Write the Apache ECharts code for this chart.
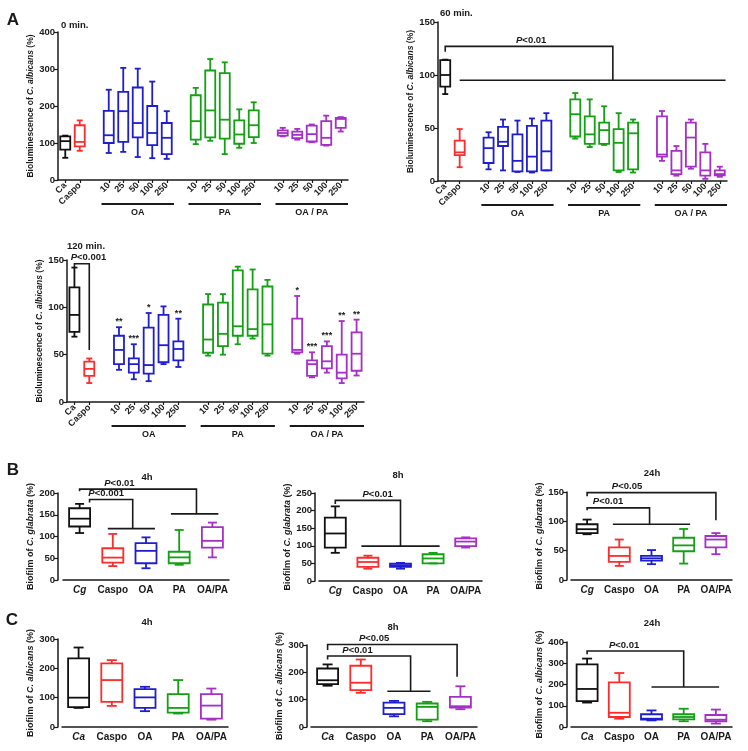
<!DOCTYPE html>
<html><head><meta charset="utf-8">
<script src="https://cdn.jsdelivr.net/npm/echarts@6/dist/echarts.min.js"></script>
<style>html,body{margin:0;padding:0;background:#fff}#c{width:748px;height:751px}</style>
</head><body><div id="c"></div>
<script>
// ---------- categories ----------
const catsA = ['Ca','Caspo','','10','25','50','100','250','','10','25','50','100','250','','10','25','50','100','250'];
const idxA = [0,1,3,4,5,6,7,9,10,11,12,13,15,16,17,18,19];
const groupsA = ['Ca','Caspo','OA','OA','OA','OA','OA','PA','PA','PA','PA','PA','OAPA','OAPA','OAPA','OAPA','OAPA'];
const catsB = ['Cg','Caspo','OA','PA','OA/PA'];
const catsC = ['Ca','Caspo','OA','PA','OA/PA'];
const idxBC = [0,1,2,3,4];
const groupsBC = ['Ca','Caspo','OA','PA','OAPA'];
const groupLabelsA = [[3,7,'OA'],[9,13,'PA'],[15,19,'OA / PA']];

// ---------- values: [min, Q1, median, Q3, max] ----------
const a0min = [
 [60,82,105,118,120],[79,91,103,148,161],
 [73,100,121,187,244],[76,103,186,238,303],[62,115,154,250,301],[59,94,127,200,266],[57,70,114,154,186],
 [97,109,159,229,249],[106,115,188,296,327],[70,112,163,289,318],[87,98,123,161,191],[100,116,148,188,210],
 [118,120,127,134,141],[109,113,122,131,138],[102,104,124,147,150],[93,95,114,159,174],[131,141,165,168,170]
];
const a60min = [
 [82,89,100,114,114.5],[13,24.5,27,38,49],
 [11,17,31,41,46],[10,33,37,51,58],[8.5,9,19,44,57],[8,9,23,52,59],[10,10,28,57,64],
 [40,42,63,77,83],[32,35,44,61,77],[34,35,48,55,70.5],[8.5,10,36,49,64],[8,11,45,55,58],
 [19,23,25,61,66],[5,6.5,10,28.5,33],[11.6,13.5,41,55,58],[2,5,10,27,35],[4,5.3,6.5,10,13.5]
];
const a120min = [
 [69,74,92,121,142],[20,27.5,35,42.6,46],
 [34,40,55,70,79],[24,31,40,46,61],[22,30,39,78.5,94],[40,42,60,92,101],[37,44,56,64,88],
 [49,52,66,103,114],[50,59,72,105,114],[61,70,80,139,143],[67,70,77,119,140],[49,51,82,122,129],
 [51,52.5,55,88,112],[26,27.5,40,44,52.5],[31,35.5,43,59,64],[20,25,31,50,85.5],[28,33,51,73.6,87]
];
const stars120 = [[3,'**'],[4,'***'],[5,'*'],[7,'**'],[15,'*'],[16,'***'],[17,'***'],[18,'**'],[19,'**']];
const b4h  = [[108,123,141,165,175],[32,40,51.5,73,106],[27,38.5,67,85,98],[35,38.5,52,65,115],[52,74.6,90,121.5,132]];
const b8h  = [[80,95,135,180,212],[35,40,54,66,72],[35,40,45,49.6,51.5],[50,50,64,76,80],[95,99,112,121,124]];
const b24h = [[78,80,86.6,95,103],[24,31,41,55.5,69],[27,33,37,41,51],[28,49,59,72,87],[44,55.5,69,75,80]];
const c4h  = [[65,68,100,234,271],[72,85.5,160,217,228],[54,65,101,129,137],[46,49,65,112,160],[25,28.5,73,112,131]];
const c8h  = [[151,157,171,214,229],[125,135,162,224,247],[39,47,70,89,95.5],[21,27,73.5,86,92],[65,71,76,110,149]];
const c24h = [[115,122,179,295,322],[39,47,67,210,254],[31,34.5,39,60,78],[27,36,47,60,86],[16,27,34.5,56.5,82]];

// ---------- significance brackets (category index / value units) ----------
const brA60 = [{x1:0,x2:11.6,top:127,d1:122,d2:95,base:[1,19.4],p:'<0.01',lx:5.95}];
const brA120 = [{x1:0,x2:1,top:146,d1:142,d2:55,base:null,p:'<0.001',lx:0.95}];
const brB4 = [{x1:0,x2:3.52,top:209,d1:204,d2:152,base:[2.75,4.18],p:'<0.01',lx:1.2},
              {x1:0.3,x2:1.6,top:185,d1:178,d2:118,base:[0.85,2.27],p:'<0.001',lx:0.8}];
const brB8 = [{x1:0,x2:2,top:229,d1:219,d2:99,base:[0.8,3.2],p:'<0.01',lx:1.3}];
const brB24 = [{x1:0,x2:4,top:149,d1:142.6,d2:102,base:null,p:'<0.05',lx:1.24},
               {x1:0,x2:1.94,top:123,d1:119,d2:95,base:[0.8,3.2],p:'<0.01',lx:0.65}];
const brC8 = [{x1:0,x2:3.9,top:302,d1:282,d2:184,base:null,p:'<0.05',lx:1.4},
              {x1:0,x2:2.5,top:260,d1:247,d2:131,base:[1.8,3.1],p:'<0.01',lx:0.9}];
const brC24 = [{x1:0,x2:3,top:358,d1:342,d2:188,base:[2,4.1],p:'<0.01',lx:1.15}];

const COLORS = {Ca:'#111111', Caspo:'#ff2b2b', OA:'#1e1ed0', PA:'#13a013', OAPA:'#a62fc8'};
const FONT = '"Liberation Sans", Arial, sans-serif';
const INK = '#1a1a1a';

const panels = [
 {cats:catsA, idx:idxA, vals:a0min, groups:groupsA, grid:{left:58,top:32,width:290,height:148}, yMax:400, yInt:100, name:'Bioluminescence of {i|C. albicans} (%)', nameGap:20, bw:10, cw:6, A:true, yOff:0, nfs:8.5, br:[]},
 {cats:catsA, idx:idxA, vals:a60min, groups:groupsA, grid:{left:438,top:22,width:289,height:159}, yMax:150, yInt:50, name:'Bioluminescence of {i|C. albicans} (%)', nameGap:20, bw:10, cw:6, A:true, yOff:0, nfs:8.5, br:brA60},
 {cats:catsA, idx:idxA, vals:a120min, groups:groupsA, grid:{left:67,top:260,width:297,height:142}, yMax:150, yInt:50, name:'Bioluminescence of {i|C. albicans} (%)', nameGap:20, bw:10, cw:6, A:true, yOff:0, nfs:8.5, br:brA120, stars:stars120},
 {cats:catsB, idx:idxBC, vals:b4h, groups:groupsBC, grid:{left:63,top:493,width:166,height:87}, yMax:200, yInt:50, name:'Biofilm of {i|C. glabrata} (%)', nameGap:20, bw:21, cw:9, A:false, yOff:5, nfs:9, br:brB4},
 {cats:catsB, idx:idxBC, vals:b8h, groups:groupsBC, grid:{left:319,top:493,width:163,height:88}, yMax:250, yInt:50, name:'Biofilm of {i|C. glabrata} (%)', nameGap:20, bw:21, cw:9, A:false, yOff:4, nfs:9, br:brB8},
 {cats:catsB, idx:idxBC, vals:b24h, groups:groupsBC, grid:{left:571,top:492,width:161,height:88}, yMax:150, yInt:50, name:'Biofilm of {i|C. glabrata} (%)', nameGap:20, bw:21, cw:9, A:false, yOff:4, nfs:9, br:brB24},
 {cats:catsC, idx:idxBC, vals:c4h, groups:groupsBC, grid:{left:62,top:639,width:166,height:88}, yMax:300, yInt:100, name:'Biofilm of {i|C. albicans} (%)', nameGap:20, bw:21, cw:10, A:false, yOff:4, nfs:9, br:[]},
 {cats:catsC, idx:idxBC, vals:c8h, groups:groupsBC, grid:{left:311,top:645,width:166,height:82}, yMax:300, yInt:100, name:'Biofilm of {i|C. albicans} (%)', nameGap:20, bw:21, cw:10, A:false, yOff:4, nfs:9, br:brC8},
 {cats:catsC, idx:idxBC, vals:c24h, groups:groupsBC, grid:{left:571,top:642,width:161,height:85}, yMax:400, yInt:100, name:'Biofilm of {i|C. albicans} (%)', nameGap:20, bw:21, cw:10, A:false, yOff:4, nfs:9, br:brC24}
];

const titles = [
 ['0 min.',61,25,'left'],['60 min.',440,13,'left'],['120 min.',67,246,'left'],
 ['4h',147,477,'center'],['8h',398,475,'center'],['24h',652,473,'center'],
 ['4h',147,622,'center'],['8h',393,627,'center'],['24h',652,623,'center']
];
const letters = [['A',13,20],['B',13,470],['C',12,620]];

const chart = echarts.init(document.getElementById('c'), null, {renderer:'canvas', width:748, height:751});

function boxRenderer(bw, cw) {
  return function (params, api) {
    const x = api.value(0);
    const v = [1,2,3,4,5].map(d => api.value(d));
    const p = v.map(val => api.coord([x, val]));
    const cx = p[0][0];
    const color = api.visual('color');
    const st = {stroke: color, lineWidth: 1.8, fill: null};
    return {type:'group', children:[
      {type:'rect', shape:{x:cx-bw/2, y:p[3][1], width:bw, height:p[1][1]-p[3][1]}, style:{stroke:color, lineWidth:1.8, fill:'rgba(0,0,0,0)'}},
      {type:'line', shape:{x1:cx-bw/2, y1:p[2][1], x2:cx+bw/2, y2:p[2][1]}, style:st},
      {type:'line', shape:{x1:cx, y1:p[3][1], x2:cx, y2:p[4][1]}, style:st},
      {type:'line', shape:{x1:cx, y1:p[1][1], x2:cx, y2:p[0][1]}, style:st},
      {type:'line', shape:{x1:cx-cw/2, y1:p[4][1], x2:cx+cw/2, y2:p[4][1]}, style:st},
      {type:'line', shape:{x1:cx-cw/2, y1:p[0][1], x2:cx+cw/2, y2:p[0][1]}, style:st}
    ]};
  };
}

const option = {
  backgroundColor:'#fff', animation:false,
  textStyle:{fontFamily:FONT},
  grid:[], xAxis:[], yAxis:[], series:[]
};
panels.forEach((P, gi) => {
  option.grid.push(Object.assign({containLabel:false}, P.grid));
  option.xAxis.push({
    gridIndex:gi, type:'category', data:P.cats, boundaryGap:true,
    axisLine:{lineStyle:{color:INK, width:1.5}},
    axisTick:{show:P.A, alignWithLabel:true, length:3, interval:(i,v)=>v!=='', lineStyle:{color:INK,width:1.2}},
    axisLabel: P.A ? {interval:0, rotate:45, fontSize:9, fontWeight:'bold', color:INK, margin:4, fontFamily:FONT}
                   : {interval:0, fontSize:10, fontWeight:'bold', color:INK, margin:5, fontFamily:FONT,
                      formatter:(v,i)=> i===0 ? '{i|'+v+'}' : v,
                      rich:{i:{fontStyle:'italic', fontWeight:'bold', fontSize:10, color:INK, fontFamily:FONT}}},
    splitLine:{show:false}
  });
  option.yAxis.push({
    gridIndex:gi, type:'value', min:0, max:P.yMax, interval:P.yInt, offset:P.yOff,
    axisLine:{show:true, lineStyle:{color:INK, width:1.5}},
    axisTick:{show:true, length:4, lineStyle:{color:INK, width:1.2}},
    axisLabel:{fontSize:9.5, fontWeight:'bold', color:INK, margin:3, fontFamily:FONT},
    splitLine:{show:false},
    name:P.name, nameLocation:'middle', nameGap:P.nameGap,
    nameTextStyle:{fontSize:P.nfs, fontWeight:'bold', color:INK, fontFamily:FONT,
      rich:{i:{fontStyle:'italic', fontWeight:'bold', fontSize:P.nfs, color:INK, fontFamily:FONT}}}
  });
  option.series.push({
    type:'custom', xAxisIndex:gi, yAxisIndex:gi, silent:true,
    encode:{x:0, y:[1,2,3,4,5]},
    renderItem: boxRenderer(P.bw, P.cw),
    data: P.vals.map((v,k)=>({value:[P.idx[k]].concat(v), itemStyle:{color:COLORS[P.groups[k]]}}))
  });
});
chart.setOption(option);

// ---------- annotations positioned through the axes ----------
function px(gi, x, y) {
  const f = {xAxisIndex:gi, yAxisIndex:gi};
  const a = chart.convertToPixel(f, [0, y]);
  const b = chart.convertToPixel(f, [1, y]);
  return [a[0] + x*(b[0]-a[0]), a[1]];
}
function slot(gi){ return px(gi,1,0)[0]-px(gi,0,0)[0]; }
const g = [];
const lineStyle = {stroke:INK, lineWidth:1.6, fill:null};
function txt(text, x, y, size, align, vAlign, rich) {
  const s = {text, x, y, fill:INK, fontSize:size, fontWeight:'bold', fontFamily:FONT, align, verticalAlign:vAlign};
  if (rich) s.rich = rich;
  return {type:'text', style:s, z:10, silent:true};
}
const pRich = {i:{fontStyle:'italic', fontWeight:'bold', fontSize:9.5, fill:INK, fontFamily:FONT},
               n:{fontWeight:'bold', fontSize:9.5, fill:INK, fontFamily:FONT}};
panels.forEach((P, gi) => {
  P.br.forEach(b => {
    const pts = [px(gi,b.x1,b.d1), px(gi,b.x1,b.top), px(gi,b.x2,b.top), px(gi,b.x2,b.d2)];
    g.push({type:'polyline', shape:{points:pts}, style:lineStyle, z:10, silent:true});
    if (b.base) g.push({type:'polyline', shape:{points:[px(gi,b.base[0],b.d2), px(gi,b.base[1],b.d2)]}, style:lineStyle, z:10, silent:true});
    const lp = px(gi, b.lx, b.top);
    g.push(txt('{i|P}{n|'+b.p+'}', lp[0], lp[1]-1, 9.5, 'center', 'bottom', pRich));
  });
  if (P.A) {
    const s = slot(gi);
    groupLabelsA.forEach(([a,e,lab]) => {
      const p1 = px(gi, a, 0), p2 = px(gi, e, 0);
      const y = p1[1] + 24;
      g.push({type:'line', shape:{x1:p1[0]-s/2, y1:y, x2:p2[0]+s/2, y2:y}, style:{stroke:INK, lineWidth:1.8}, silent:true});
      g.push(txt(lab, (p1[0]+p2[0])/2, y+9, 9, 'center', 'middle'));
    });
  }
  if (P.stars) {
    P.stars.forEach(([ci, s]) => {
      const k = P.idx.indexOf(ci);
      const p = px(gi, ci, P.vals[k][4]);
      g.push(txt(s, p[0], p[1]-1, 9, 'center', 'bottom'));
    });
  }
});
titles.forEach(([t,x,y,al]) => g.push(txt(t, x, y, 9.5, al, 'middle')));
letters.forEach(([t,x,y]) => g.push(txt(t, x, y, 17, 'center', 'middle')));
chart.setOption({graphic: g});
</script></body></html>
